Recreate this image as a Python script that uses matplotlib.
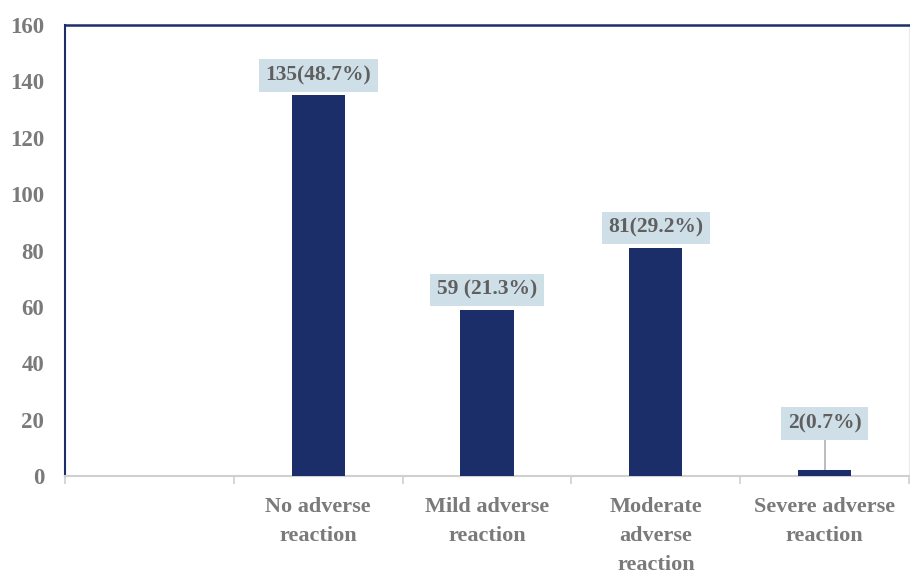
import numpy as np
import matplotlib.pyplot as plt

plt.rcParams['font.family'] = ['Liberation Serif', 'DejaVu Serif']
plt.rcParams['font.weight'] = 'bold'

# first slot on the axis is left empty
categories = ["", "No adverse\nreaction", "Mild adverse\nreaction",
              "Moderate\nadverse\nreaction", "Severe adverse\nreaction"]
counts = [0, 135, 59, 81, 2]
labels = ["", "135(48.7%)", "59 (21.3%)", "81(29.2%)", "2(0.7%)"]
label_y = [0, 142, 66, 88, 18.6]

bar_color = "#1b2e69"
box_color = "#cfdfe8"
gray = "#7a7a7a"

fig = plt.figure(figsize=(9.10, 5.74), dpi=100)
ax = fig.add_axes([0.0714, 0.1707, 0.9276, 0.7857])

x = np.arange(len(categories))
ax.bar(x[1:], counts[1:], width=0.315, color=bar_color, zorder=3)

for i in range(1, len(categories)):
    ax.text(x[i], label_y[i], labels[i], ha="center", va="center",
            fontsize=15.5, color="#5f5f5f",
            bbox=dict(boxstyle="square,pad=0.3", fc=box_color, ec="none"),
            zorder=5)

# leader line for the small bar
ax.plot([x[4], x[4]], [counts[4], label_y[4] - 4.6], color="#b0b0b0",
        lw=1.2, zorder=2)

ax.set_xlim(-0.5, 4.5)
ax.set_ylim(0, 160)
ax.set_yticks(np.arange(0, 161, 20))
ax.tick_params(axis="y", length=0, pad=15, labelsize=16.5, labelcolor=gray)

# category ticks sit on the slot boundaries, labels in the middle
ax.set_xticks(np.arange(-0.5, 4.6, 1.0))
ax.set_xticklabels([])
ax.tick_params(axis="x", length=6, width=1.2, color="#d0d0d0", direction="out")
for i in range(1, len(categories)):
    ax.text(x[i], -7.3, categories[i], ha="center", va="top", fontsize=16,
            color=gray, linespacing=1.6)

ax.spines["left"].set_color(bar_color)
ax.spines["left"].set_linewidth(1.5)
ax.spines["top"].set_color(bar_color)
ax.spines["top"].set_linewidth(1.8)
ax.spines["bottom"].set_color("#d0d0d0")
ax.spines["bottom"].set_linewidth(1.5)
ax.spines["right"].set_color("#ececec")
ax.spines["right"].set_linewidth(1.0)

plt.savefig("out.png", dpi=100)
